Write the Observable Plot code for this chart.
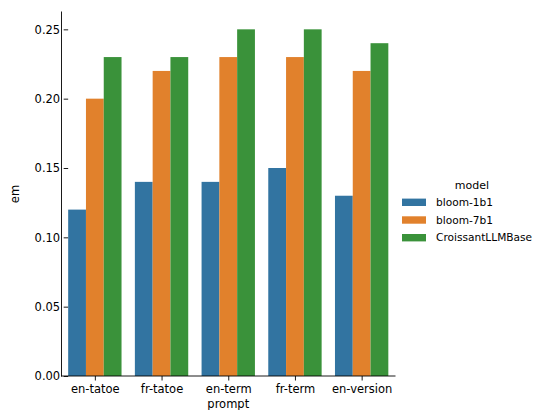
<!DOCTYPE html>
<html><head><meta charset="utf-8">
<script src="https://cdn.jsdelivr.net/npm/d3@7"></script>
<script src="https://cdn.jsdelivr.net/npm/@observablehq/plot@0.6"></script>
<style>
body{margin:0;background:#fff;font-family:"DejaVu Sans",sans-serif;}
#wrap{position:relative;width:543px;height:410px;overflow:hidden;}
</style></head><body><div id="wrap"></div>
<script>
const prompts = ["en-tatoe","fr-tatoe","en-term","fr-term","en-version"];
const models = ["bloom-1b1","bloom-7b1","CroissantLLMBase"];
const colors = ["#3274a1","#e1812c","#3a923a"];
const bloom1b1 = [0.12,0.14,0.14,0.15,0.13];
const bloom7b1 = [0.20,0.22,0.23,0.23,0.22];
const croissant = [0.23,0.23,0.25,0.25,0.24];
const yTicks = [0,0.05,0.10,0.15,0.20,0.25];
const yLabel = "em", xLabel = "prompt", legendTitle = "model";
const series = [bloom1b1,bloom7b1,croissant];
const data = prompts.flatMap((p,i)=>models.map((m,k)=>({prompt:p, model:m, em: series[k][i]})));

const W=543,H=410,ML=61.5,MR=148,MT=12,MB=34;
const plot = Plot.plot({
  width:W, height:H, marginLeft:ML, marginRight:MR, marginTop:MT, marginBottom:MB,
  style:{fontFamily:"DejaVu Sans", fontSize:"11.5px", color:"#000", background:"#fff", overflow:"visible"},
  fx:{domain:prompts, paddingInner:0.2, paddingOuter:0.1, round:false, label:null, tickSize:4.5, tickPadding:4},
  x:{domain:models, axis:null, padding:0, round:false},
  y:{domain:[0,0.2625], ticks:yTicks, tickFormat:".2f", label:null, tickSize:4.5, tickPadding:4, grid:false},
  color:{domain:models, range:colors},
  marks:[Plot.barY(data,{fx:"prompt", x:"model", y:"em", fill:"model"})]
});
document.getElementById("wrap").appendChild(plot);

const svg = d3.select(plot);
svg.selectAll("g[aria-label*='tick'] path").attr("stroke-width",0.9);
const yr = plot.scale("y").range, fr = plot.scale("fx").range;
const y0 = Math.max(...yr), y1 = Math.min(...yr), x0 = Math.min(...fr), x1 = Math.max(...fr);
const g = svg.append("g").attr("stroke","#000").attr("stroke-width",0.9).attr("stroke-linecap","square");
g.append("line").attr("x1",x0).attr("x2",x0).attr("y1",y1).attr("y2",y0);
g.append("line").attr("x1",x0).attr("x2",x1).attr("y1",y0).attr("y2",y0);

const t = svg.append("g").attr("font-family","DejaVu Sans").attr("font-size",11.5).attr("fill","#000");
t.append("text").attr("transform",`translate(15,${(y0+y1)/2}) rotate(-90)`).attr("text-anchor","middle").attr("dy","0.35em").text(yLabel);
t.append("text").attr("x",(x0+x1)/2).attr("y",404).attr("text-anchor","middle").attr("dy","0.35em").text(xLabel);

const lg = svg.append("g").attr("font-family","DejaVu Sans").attr("font-size",10.6).attr("fill","#000");
lg.append("text").attr("x",472).attr("y",185.5).attr("dy","0.35em").attr("text-anchor","middle").attr("font-size",11).text(legendTitle);
models.forEach((m,k)=>{
  const yy = 202.3 + k*17.7;
  lg.append("rect").attr("x",402).attr("y",yy-3.7).attr("width",24).attr("height",7.4).attr("fill",colors[k]);
  lg.append("text").attr("x",436).attr("y",yy).attr("dy","0.35em").attr("text-anchor","start").text(m);
});
</script></body></html>
